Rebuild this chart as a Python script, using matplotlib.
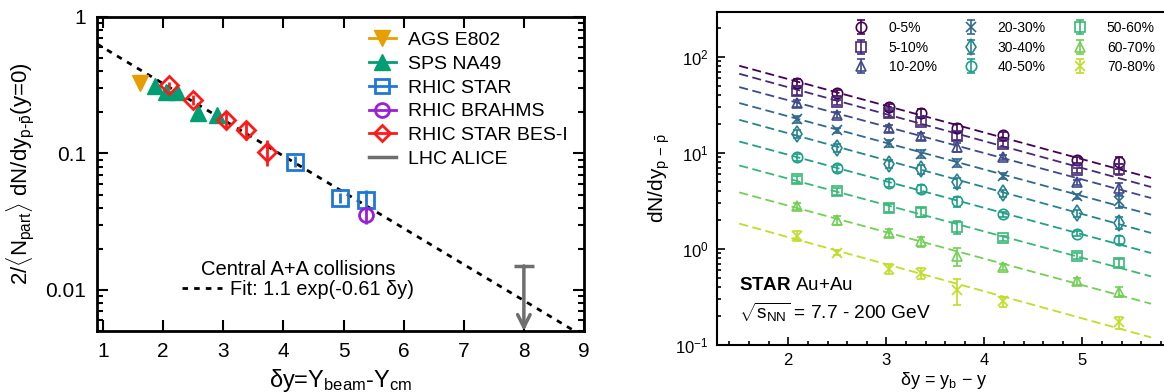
import numpy as np
import matplotlib
matplotlib.use("Agg")
import matplotlib.pyplot as plt
from matplotlib.lines import Line2D
from matplotlib.ticker import MultipleLocator, LogLocator, NullFormatter

plt.rcParams['font.family'] = ['Liberation Sans', 'DejaVu Sans']
plt.rcParams['mathtext.fontset'] = 'custom'
plt.rcParams['mathtext.rm'] = 'Liberation Sans'
plt.rcParams['mathtext.it'] = 'Liberation Sans'
plt.rcParams['mathtext.sf'] = 'Liberation Sans'
plt.rcParams['mathtext.bf'] = 'Liberation Sans:bold'

# ---- left panel data: central A+A, net-proton yield per participant pair
ags_x = [1.62]
ags_y = [0.327]
ags_err = [0.03]

na49_x = [1.87, 2.05, 2.23, 2.58, 2.90]
na49_y = [0.311, 0.282, 0.282, 0.197, 0.190]
na49_err = [0.025, 0.025, 0.025, 0.018, 0.018]

star_x = [4.20, 4.94, 5.37]
star_y = [0.0873, 0.0472, 0.0457]
star_err = [0.008, 0.004, 0.008]

brahms_x = [5.37]
brahms_y = [0.0354]
brahms_err = [0.005]

bes_x = [2.10, 2.50, 3.04, 3.37, 3.73]
bes_y = [0.316, 0.248, 0.175, 0.148, 0.103]
bes_err = [0.02, 0.02, 0.025, 0.022, 0.022]

alice_x = 8.0
alice_upper = 0.015

fit_amp = 1.1
fit_slope = 0.61

# ---- right panel data: STAR Au+Au, centrality dependence
dy = [2.09, 2.50, 3.03, 3.35, 3.72, 4.19, 4.94, 5.37]
cent_labels = ['0-5%', '5-10%', '10-20%', '20-30%', '30-40%',
               '40-50%', '50-60%', '60-70%', '70-80%']
cent_markers = ['o', 's', '^', 'x', 'd', 'o', 's', '^', 'x']
yields = [
    [54.3, 42.2, 30.1, 26.1, 18.2, 15.5, 8.5, 7.98],
    [43.9, 33.7, 26.1, 21.3, 15.1, 12.5, 6.6, 6.8],
    [33.2, 25.1, 18.2, 14.9, 11.5, 9.0, 4.94, 4.3],
    [22.6, 17.2, 12.7, 9.8, 7.9, 5.8, 3.53, 3.13],
    [15.9, 11.3, 7.75, 6.8, 4.94, 3.83, 2.37, 1.87],
    [9.08, 6.98, 4.87, 4.22, 3.13, 2.32, 1.44, 1.25],
    [5.36, 3.98, 2.67, 2.41, 1.69, 1.30, 0.85, 0.72],
    [2.78, 1.99, 1.47, 1.20, 0.85, 0.65, 0.46, 0.36],
    [1.38, 0.92, 0.62, 0.56, 0.377, 0.284, np.nan, 0.172],
]
rel_err = [
    [0.08, 0.07, 0.08, 0.09, 0.10, 0.07, 0.07, 0.14],
    [0.08, 0.07, 0.08, 0.09, 0.10, 0.07, 0.07, 0.14],
    [0.08, 0.07, 0.08, 0.09, 0.10, 0.07, 0.07, 0.14],
    [0.08, 0.07, 0.08, 0.09, 0.10, 0.07, 0.07, 0.14],
    [0.10, 0.09, 0.10, 0.10, 0.12, 0.08, 0.08, 0.14],
    [0.08, 0.08, 0.10, 0.10, 0.12, 0.06, 0.06, 0.10],
    [0.08, 0.08, 0.10, 0.10, 0.15, 0.06, 0.08, 0.10],
    [0.08, 0.10, 0.10, 0.12, 0.22, 0.08, 0.08, 0.12],
    [0.12, 0.06, 0.12, 0.12, 0.30, 0.12, 0.0, 0.15],
]
# dashed fit lines, read at their two ends
fit_x = [1.5, 5.7]
fit_ends = [
    [81.2, 5.50], [67.0, 4.43], [48.7, 3.40], [33.2, 2.28], [22.2, 1.47],
    [13.2, 0.908], [7.43, 0.519], [3.89, 0.269], [1.84, 0.120],
]

fig = plt.figure(figsize=(11.64, 3.92), dpi=100)

# ================= left panel =================
ax1 = fig.add_axes([97 / 1164, 1 - 331 / 392, 487 / 1164, 314 / 392])
ax1.set_yscale('log')
ax1.set_xlim(0.9, 9)
ax1.set_ylim(0.005, 1)

xf = np.linspace(0.9, 9, 200)
ax1.plot(xf, fit_amp * np.exp(-fit_slope * xf), color='black', lw=2,
         dashes=(2, 2.2))

c_ags, c_na49, c_star = '#E69F00', '#009E73', '#1F77D8'
c_brahms, c_bes, c_alice = '#9A1FD6', '#FF1A1A', '#6E6E6E'

ax1.errorbar(ags_x, ags_y, yerr=ags_err, fmt='v', color=c_ags, ms=11,
             elinewidth=2, capsize=0)
ax1.errorbar(na49_x, na49_y, yerr=na49_err, fmt='^', color=c_na49, ms=11,
             elinewidth=2, capsize=0)
ax1.errorbar(star_x, star_y, yerr=star_err, fmt='s', color=c_star, ms=11,
             mfc='none', mew=2, elinewidth=2, capsize=0)
ax1.errorbar(brahms_x, brahms_y, yerr=brahms_err, fmt='o', color=c_brahms,
             ms=10, mfc='none', mew=2, elinewidth=2, capsize=0)
ax1.errorbar(bes_x, bes_y, yerr=bes_err, fmt='D', color=c_bes, ms=9,
             mfc='none', mew=2, elinewidth=2, capsize=0)

# ALICE upper limit
ax1.annotate('', xy=(alice_x, 0.005), xytext=(alice_x, alice_upper),
             arrowprops=dict(arrowstyle='->,head_length=0.9,head_width=0.45',
                             color=c_alice, lw=2.5, shrinkA=0, shrinkB=0))
ax1.plot([alice_x], [alice_upper], marker='_', ms=14, mew=2.5, color=c_alice)

ax1.set_xticks(range(1, 10))
ax1.yaxis.set_major_locator(LogLocator(base=10, numticks=10))
ax1.yaxis.set_minor_locator(LogLocator(base=10, subs=np.arange(2, 10), numticks=10))
ax1.yaxis.set_minor_formatter(NullFormatter())
ax1.set_yticks([0.01, 0.1, 1])
ax1.set_yticklabels(['0.01', '0.1', '1'])
ax1.tick_params(which='both', direction='in', top=True, right=True,
                labelsize=15, width=1.5)
ax1.tick_params(which='major', length=8, pad=8)
ax1.tick_params(which='minor', length=4)
for s in ax1.spines.values():
    s.set_linewidth(2)

ax1.set_xlabel('δy=Y$_{\\rm beam}$-Y$_{\\rm cm}$', fontsize=17, labelpad=4)
ax1.set_ylabel('2/$\\langle$N$_{\\rm part}$$\\rangle$ dN/dy$_{\\rm p\\text{-}\\bar{p}}$(y=0)',
               fontsize=16, labelpad=6)

h_left = [
    Line2D([], [], color=c_ags, marker='v', ms=11, lw=2),
    Line2D([], [], color=c_na49, marker='^', ms=11, lw=2),
    Line2D([], [], color=c_star, marker='s', ms=10, mfc='none', mew=2, lw=2),
    Line2D([], [], color=c_brahms, marker='o', ms=10, mfc='none', mew=2, lw=2),
    Line2D([], [], color=c_bes, marker='D', ms=8, mfc='none', mew=2, lw=2),
    Line2D([], [], color=c_alice, lw=2.5),
]
lab_left = ['AGS E802', 'SPS NA49', 'RHIC STAR', 'RHIC BRAHMS',
            'RHIC STAR BES-I', 'LHC ALICE']
leg1 = ax1.legend(h_left, lab_left, loc='upper left', bbox_to_anchor=(0.522, 1.01),
                  frameon=False, fontsize=14, handlelength=1.4,
                  handletextpad=0.6, labelspacing=0.32)
ax1.add_artist(leg1)
fit_h = Line2D([], [], color='black', lw=2, dashes=(2, 2.2))
leg2 = ax1.legend([fit_h], ['Fit: 1.1 exp(-0.61 δy)'], title='Central A+A collisions',
                  loc='center', bbox_to_anchor=(0.413, 0.165), frameon=False,
                  fontsize=14.3, title_fontsize=14.5, handlelength=2.0,
                  handletextpad=0.45, labelspacing=0.05)

# ================= right panel =================
ax2 = fig.add_axes([716.7 / 1164, 1 - 345 / 392, 454 / 1164, 333 / 392])
ax2.set_yscale('log')
ax2.set_xlim(1.27, 5.9)
ax2.set_ylim(0.1, 295)

colors = plt.cm.viridis(np.linspace(0.0, 0.9, 9))
for i in range(9):
    ax2.plot(fit_x, fit_ends[i], color=colors[i], lw=1.3, dashes=(5, 2.5))
for i in range(9):
    yv = np.array(yields[i])
    ev = yv * np.array(rel_err[i])
    ax2.errorbar(dy, yv, yerr=ev, fmt=cent_markers[i], color=colors[i],
                 ms=7.5 if cent_markers[i] != 'd' else 8, mfc='none', mew=1.2,
                 elinewidth=1.2, capsize=3, capthick=1.2, label=cent_labels[i])

ax2.set_xticks([2, 3, 4, 5])
ax2.xaxis.set_minor_locator(MultipleLocator(0.2))
ax2.yaxis.set_major_locator(LogLocator(base=10, numticks=10))
ax2.yaxis.set_minor_locator(LogLocator(base=10, subs=np.arange(2, 10), numticks=10))
ax2.yaxis.set_minor_formatter(NullFormatter())
ax2.tick_params(which='both', direction='in', labelsize=12, width=1.2)
ax2.tick_params(which='major', length=6, pad=6)
ax2.tick_params(which='minor', length=3)
for s in ax2.spines.values():
    s.set_linewidth(1.5)

ax2.set_xlabel('δy = y$_{\\rm b}$ − y', fontsize=13, labelpad=1)
ax2.set_ylabel('dN/dy$_{\\rm p\\,-\\,\\bar{p}}$', fontsize=15, labelpad=2)

ax2.legend(loc='upper left', bbox_to_anchor=(0.273, 1.01), ncol=3, frameon=False,
           fontsize=10, handlelength=1.2, handletextpad=1.35,
           columnspacing=1.85, labelspacing=0.4)

ax2.text(0.05, 0.165, '$\\bf{STAR}$ Au+Au', transform=ax2.transAxes,
         fontsize=13.5, ha='left', va='baseline')
ax2.text(0.05, 0.078, '$\\sqrt{s_{\\rm NN}}$ = 7.7 - 200 GeV',
         transform=ax2.transAxes, fontsize=13.8, ha='left', va='baseline')

fig.savefig('out.png', dpi=100)
